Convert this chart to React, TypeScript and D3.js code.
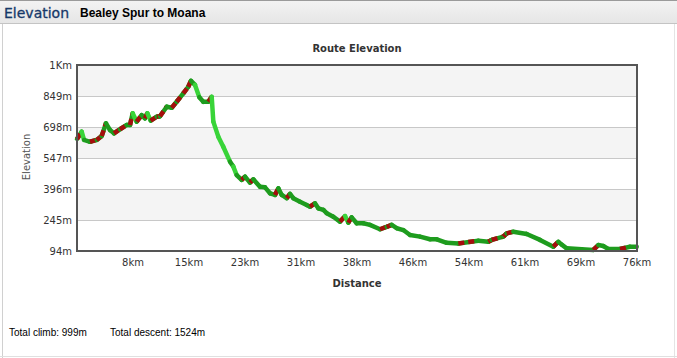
import React from "react";
import * as d3 from "d3";

const distanceKm = [
  0, 0.64, 0.96, 1.77, 2.69, 3.37, 3.96, 4.51, 5.05, 5.87, 6.79, 7.24, 7.6, 8.15, 8.83, 9.28, 9.6,
  10.06, 10.88, 11.33, 12.25, 12.93, 13.61, 14.51, 15.19, 15.56, 16.11, 16.7, 17.24, 17.93, 18.39,
  18.61, 19.29, 19.97, 20.89, 21.34, 21.8, 22.48, 22.94, 23.62, 24.07, 24.98, 25.67, 26.35, 27.03,
  27.48, 27.95, 28.63, 29.08, 29.53, 30.44, 31.36, 31.81, 32.49, 32.94, 33.63, 34.09, 34.99, 35.9,
  36.59, 37.04, 37.5, 38.18, 39.09, 40.0, 41.37, 42.28, 42.96, 43.65, 44.55, 45.46, 46.83, 48.19,
  49.11, 50.47, 52.06, 54.79, 56.15, 56.61, 58.2, 58.66, 59.56, 61.39, 63.21, 65.03, 65.71, 66.17,
  66.85, 68.9, 70.49, 71.17, 71.85, 72.53, 74.13, 75.49, 76.41,
];
const elevationM = [
  640, 675, 635, 626, 635, 654, 716, 683, 667, 687, 708, 708, 765, 724, 756, 740, 765, 729, 748,
  750, 797, 792, 821, 862, 894, 923, 903, 843, 821, 821, 845, 724, 651, 602, 529, 505, 464, 440,
  456, 427, 443, 407, 404, 375, 367, 399, 367, 351, 372, 351, 334, 318, 310, 326, 302, 294, 278,
  261, 237, 264, 232, 258, 229, 229, 221, 200, 212, 221, 205, 196, 172, 164, 151, 151, 134, 131,
  144, 139, 148, 164, 180, 188, 177, 148, 115, 139, 125, 107, 102, 99, 123, 118, 104, 104, 115, 115,
];

const yTicks = [94, 245, 396, 547, 698, 849, 1000];
const yTickLabels = ["94m", "245m", "396m", "547m", "698m", "849m", "1Km"];
const totalDistanceKm = 76.45;
const xTickLabels = ["8km", "15km", "23km", "31km", "38km", "46km", "54km", "61km", "69km", "76km"];

const W = 677;
const H = 358;
const plot = { left: 77, right: 637, top: 65, bottom: 251 };

const RED = "#a50d0d";
const GREEN = "#1e9c1e";
const BRIGHT = "#39d439";

export default function App() {
  const x = d3.scaleLinear().domain([0, totalDistanceKm]).range([plot.left, plot.right]);
  const y = d3.scaleLinear().domain([94, 1000]).range([plot.bottom, plot.top]);
  const xTicks = xTickLabels.map((_, i) => ((i + 1) * totalDistanceKm) / 10);
  const line = d3
    .line<[number, number]>()
    .x((d) => x(d[0]))
    .y((d) => y(d[1]));

  const segs = distanceKm.slice(1).map((d, i) => {
    const a: [number, number] = [distanceKm[i], elevationM[i]];
    const b: [number, number] = [d, elevationM[i + 1]];
    const slope = (b[1] - a[1]) / (b[0] - a[0]);
    return { pts: [a, b], slope };
  });

  const bands: [number, number][] = [];
  for (let i = 0; i < yTicks.length - 1; i++) {
    if ((yTicks.length - 2 - i) % 2 === 0) bands.push([yTicks[i], yTicks[i + 1]]);
  }

  return (
    <svg
      width={W}
      height={H}
      style={{ position: "absolute", left: 0, top: 0, fontFamily: "DejaVu Sans" }}
    >
      <defs>
        <linearGradient id="hdr" x1="0" y1="0" x2="0" y2="1">
          <stop offset="0" stopColor="#f3f3f3" />
          <stop offset="1" stopColor="#e6e6e6" />
        </linearGradient>
      </defs>
      <rect x={0} y={0} width={W} height={H} fill="#ffffff" />
      <rect x={0} y={0} width={W} height={23} fill="url(#hdr)" />
      <line x1={0} x2={W} y1={0.5} y2={0.5} stroke="#9a9a9a" />
      <line x1={0} x2={W} y1={23.5} y2={23.5} stroke="#c4c4c4" />
      <line x1={2.5} x2={2.5} y1={24} y2={H} stroke="#d0d0d0" />
      <line x1={674.5} x2={674.5} y1={24} y2={H} stroke="#e4e4e4" />
      <line x1={0} x2={W} y1={356.5} y2={356.5} stroke="#e0e0e0" />
      <text x={4} y={18} fontSize={14} fill="#163869" fontFamily="DejaVu Sans" stroke="#163869" strokeWidth={0.3}>
        Elevation
      </text>
      <text x={80} y={17} fontSize={12} fontWeight="bold" fill="#000" fontFamily="Liberation Sans">
        Bealey Spur to Moana
      </text>

      <text x={(plot.left + plot.right) / 2} y={52} textAnchor="middle" fontSize={10} fontWeight="bold" fill="#333">
        Route Elevation
      </text>

      {bands.map(([a, b], i) => (
        <rect key={i} x={plot.left} y={y(b)} width={plot.right - plot.left} height={y(a) - y(b)} fill="#f4f4f4" />
      ))}
      {yTicks.map((t) => (
        <line key={t} x1={plot.left} x2={plot.right} y1={Math.round(y(t)) + 0.5} y2={Math.round(y(t)) + 0.5} stroke="#c8c8c8" />
      ))}
      {yTicks.map((t, i) => (
        <text key={t} x={72} y={y(t) + 3.5} textAnchor="end" fontSize={10} fill="#333">
          {yTickLabels[i]}
        </text>
      ))}
      {xTicks.map((t, i) => (
        <text key={i} x={x(t)} y={266} textAnchor="middle" fontSize={10} fill="#333">
          {xTickLabels[i]}
        </text>
      ))}
      <text transform={`translate(30,157) rotate(-90)`} textAnchor="middle" fontSize={10} fill="#555">
        Elevation
      </text>
      <text x={(plot.left + plot.right) / 2} y={287} textAnchor="middle" fontSize={10} fontWeight="bold" fill="#333">
        Distance
      </text>

      <g fill="none" strokeWidth={4.5} strokeLinecap="round" strokeLinejoin="round">
        {segs.map((s, i) => {
          const d = line(s.pts as [number, number][]) || "";
          if (s.slope < -70) return <path key={i} d={d} stroke={BRIGHT} />;
          if (s.slope <= 0) return <path key={i} d={d} stroke={GREEN} />;
          return (
            <g key={i}>
              <path d={d} stroke={GREEN} />
              <path d={d} stroke={RED} strokeDasharray="6 4" strokeLinecap="butt" />
            </g>
          );
        })}
      </g>

      <rect
        x={plot.left}
        y={plot.top}
        width={plot.right - plot.left}
        height={plot.bottom - plot.top}
        fill="none"
        stroke="#555"
        strokeWidth={2}
      />

      <text x={9} y={336} fontSize={10} fill="#000" fontFamily="Liberation Sans">
        Total climb: 999m
      </text>
      <text x={110} y={336} fontSize={10} fill="#000" fontFamily="Liberation Sans">
        Total descent: 1524m
      </text>
    </svg>
  );
}
